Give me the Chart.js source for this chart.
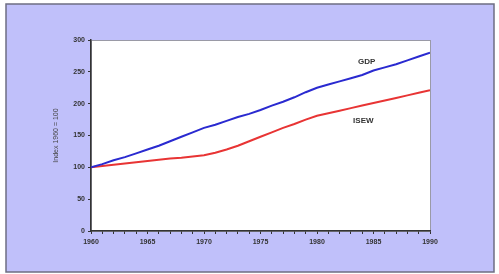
<!DOCTYPE html>
<html lang="en">
<head>
    <meta charset="UTF-8">
    <title>GDP vs ISEW</title>
    <script src="https://cdn.jsdelivr.net/npm/chart.js"></script>
    <style>
        html, body { margin: 0; padding: 0; background: #ffffff; }
        #wrap { width: 499px; height: 274px; position: relative; }
    </style>
</head>
<body>
    <div id="wrap"><canvas id="chart" width="499" height="274"></canvas></div>
    <script>
        // Values (index, 1960 = 100)
        const years = [1960, 1961, 1962, 1963, 1964, 1965, 1966, 1967, 1968, 1969,
                       1970, 1971, 1972, 1973, 1974, 1975, 1976, 1977, 1978, 1979,
                       1980, 1981, 1982, 1983, 1984, 1985, 1986, 1987, 1988, 1989, 1990];
        const gdp = [100, 105, 111, 116, 122, 128, 134, 141, 148, 155,
                     162, 167, 173, 179, 184, 190, 197, 203, 210, 218,
                     225, 230, 235, 240, 245, 252, 257, 262, 268, 274, 280];
        const isew = [100, 102, 104, 106, 108, 110, 112, 114, 115, 117,
                      119, 123, 128, 134, 141, 148, 155, 162, 168, 175,
                      181, 185, 189, 193, 197, 201, 205, 209, 213, 217, 221];
        const yTicks = [0, 50, 100, 150, 200, 250, 300];
        const seriesNames = ['GDP', 'ISEW'];

        const tickFont = { family: 'Liberation Sans, Arial, sans-serif', size: 7, weight: 'bold' };

        // Lavender panel, outer frame and white plot box
        const framePlugin = {
            id: 'frame',
            beforeDraw(chart) {
                const c = chart.ctx;
                const a = chart.chartArea;
                c.save();
                c.fillStyle = '#ffffff';
                c.fillRect(0, 0, chart.width, chart.height);
                c.fillStyle = '#c0c0fa';
                c.fillRect(6, 4, 488, 268);
                c.strokeStyle = '#6e6e82';
                c.lineWidth = 1.5;
                c.strokeRect(6, 4, 488, 268);
                c.fillStyle = '#ffffff';
                c.fillRect(a.left, a.top, a.right - a.left, a.bottom - a.top);
                c.strokeStyle = '#9a9aa6';
                c.lineWidth = 1;
                c.strokeRect(a.left + 0.5, a.top + 0.5, a.right - a.left, a.bottom - a.top);
                c.restore();
            }
        };

        // Series names written next to the lines
        const labelPlugin = {
            id: 'lineLabels',
            afterDatasetsDraw(chart) {
                const c = chart.ctx;
                const x = chart.scales.x, y = chart.scales.y;
                c.save();
                c.font = 'bold 8px Liberation Sans, Arial, sans-serif';
                c.fillStyle = '#333333';
                c.textAlign = 'center';
                c.textBaseline = 'middle';
                c.fillText(seriesNames[0], x.getPixelForValue(1984.4), y.getPixelForValue(265));
                c.fillText(seriesNames[1], x.getPixelForValue(1984.1), y.getPixelForValue(173));
                c.restore();
            }
        };

        new Chart(document.getElementById('chart'), {
            type: 'line',
            data: {
                datasets: [{
                    label: seriesNames[0],
                    data: years.map((yr, i) => ({ x: yr, y: gdp[i] })),
                    borderColor: '#2a2ad0',
                    borderWidth: 2,
                    pointRadius: 0,
                    tension: 0
                }, {
                    label: seriesNames[1],
                    data: years.map((yr, i) => ({ x: yr, y: isew[i] })),
                    borderColor: '#e83434',
                    borderWidth: 2,
                    pointRadius: 0,
                    tension: 0
                }]
            },
            options: {
                responsive: false,
                animation: false,
                layout: { padding: { left: 50, right: 69, top: 40, bottom: 23 } },
                plugins: { legend: { display: false }, tooltip: { enabled: false } },
                scales: {
                    x: {
                        type: 'linear',
                        min: 1960,
                        max: 1990,
                        afterBuildTicks: s => { s.ticks = years.map(v => ({ value: v })); },
                        ticks: {
                            autoSkip: false,
                            maxRotation: 0,
                            padding: 4,
                            color: '#333333',
                            font: tickFont,
                            callback: v => (v % 5 === 0 ? String(v) : '')
                        },
                        grid: { drawOnChartArea: false, tickLength: 3, color: '#333333' },
                        border: { color: '#333333', width: 1.5 },
                        afterFit: s => { s.height = 20; }
                    },
                    y: {
                        min: 0,
                        max: 300,
                        afterBuildTicks: s => { s.ticks = yTicks.map(v => ({ value: v })); },
                        ticks: { padding: 3, color: '#333333', font: tickFont },
                        grid: { drawOnChartArea: false, tickLength: 3, color: '#333333' },
                        border: { color: '#333333', width: 1.5 },
                        title: {
                            display: true,
                            text: 'Index 1960 = 100',
                            color: '#444444',
                            font: { family: 'Liberation Sans, Arial, sans-serif', size: 7 },
                            padding: { top: 2, bottom: 0 }
                        },
                        afterFit: s => { s.width = 41; }
                    }
                }
            },
            plugins: [framePlugin, labelPlugin]
        });
    </script>
</body>
</html>
